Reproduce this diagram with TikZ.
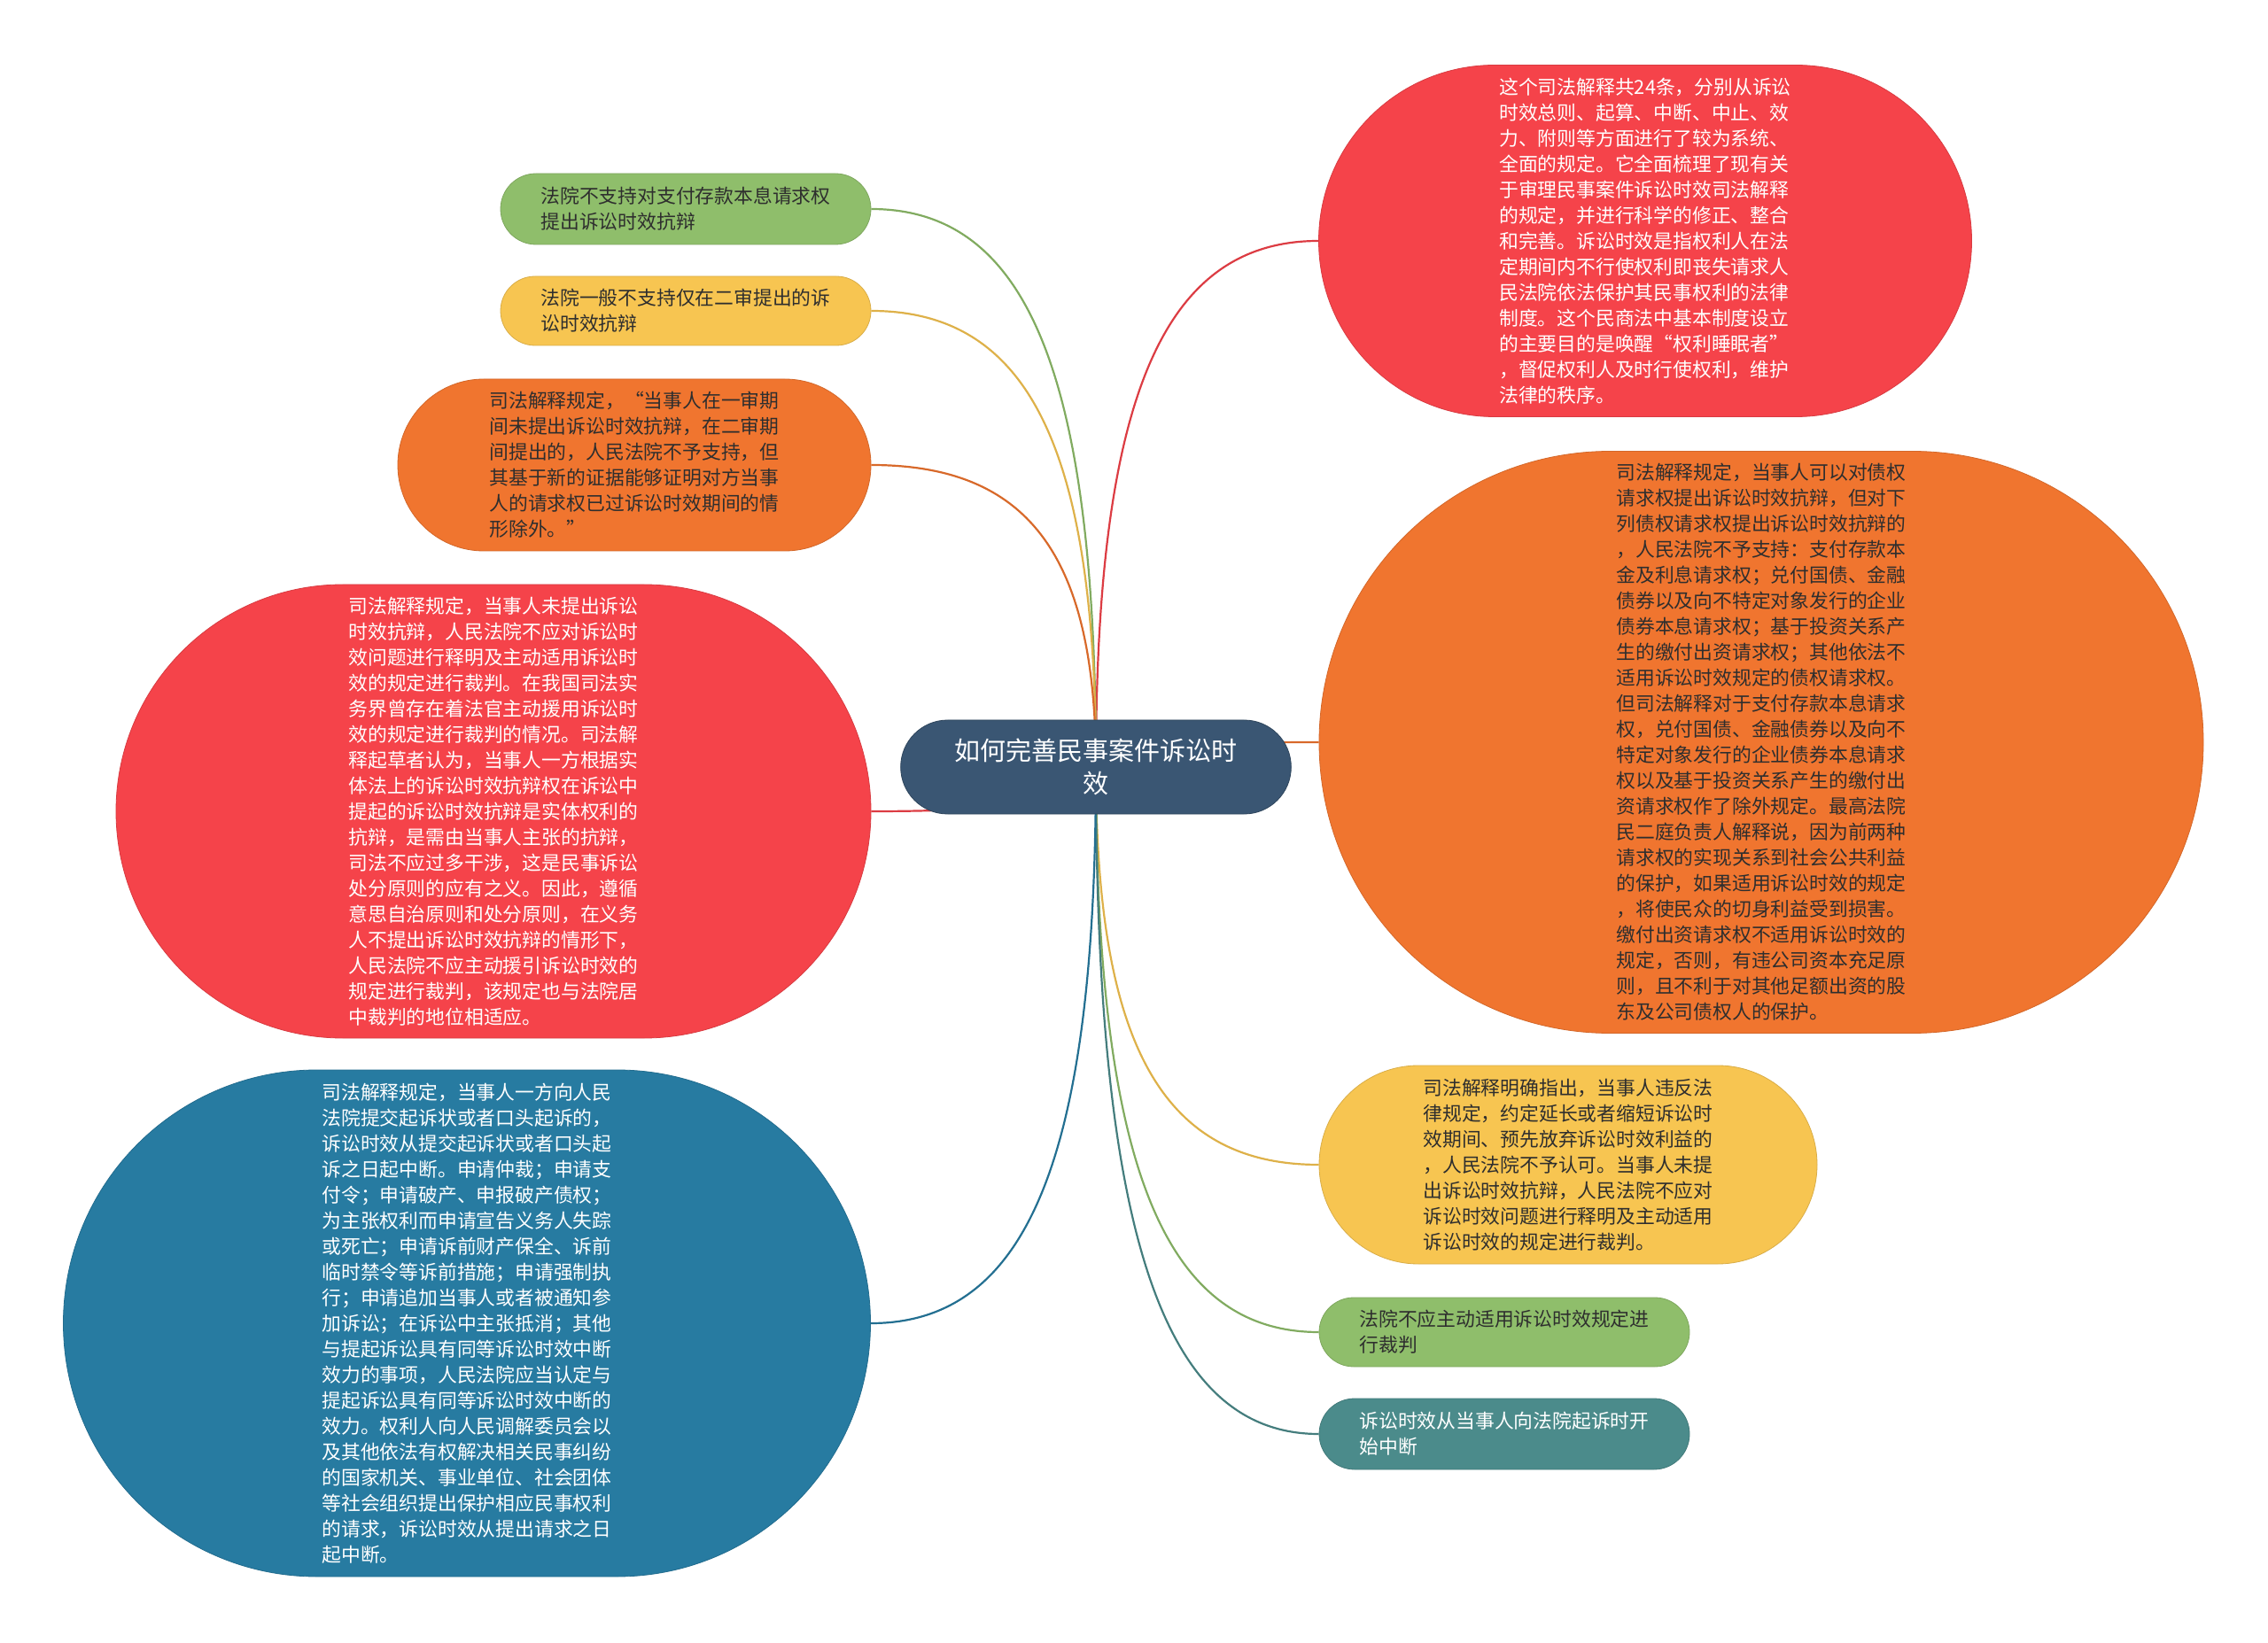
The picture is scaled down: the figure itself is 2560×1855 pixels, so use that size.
\documentclass[tikz,border=0pt]{standalone}
\usepackage{fontspec}
\setmainfont{Noto Sans CJK SC}
\usetikzlibrary{shapes.misc,calc}
\pgfdeclarelayer{bg}
\pgfdeclarelayer{lines}
\pgfsetlayers{bg,lines,main}
\definecolor{cred}{HTML}{F5434A}
\definecolor{corange}{HTML}{F0752F}
\definecolor{cyellow}{HTML}{F7C551}
\definecolor{cgreen}{HTML}{8FBE6B}
\definecolor{cteal}{HTML}{4B8B8B}
\definecolor{cblue}{HTML}{277BA1}
\definecolor{ccenter}{HTML}{3A5673}
\definecolor{cdark}{HTML}{2E2E2E}
\newcommand\mmconn[2]{%
  \draw[ln=#1] (C.center) .. controls ($(C.center)!0.7!(C.center |- #2)$) and ($(#2)!0.7!(C.center |- #2)$) .. (#2);}
\begin{document}
\begin{tikzpicture}[x=0.5pt,y=-0.5pt,
  bub/.style={rounded rectangle, fill=#1, draw=#1!88!black, line width=0.4pt,
    align=left, inner sep=0pt, font=\fontsize{10.9pt}{14.5pt}\selectfont},
  ln/.style={line width=1.1pt, draw=#1!90!black}]
\begin{pgfonlayer}{bg}
\fill[white] (0,0) rectangle (2560,1855);
\end{pgfonlayer}
\useasboundingbox (0,0) rectangle (2560,1855);

\node[rounded rectangle, fill=ccenter, draw=ccenter!80!black, line width=0.4pt,
  minimum width=227pt, minimum height=53pt, align=center, text=white,
  font=\fontsize{14.5pt}{18.75pt}\selectfont] (C) at (1237,866)
  {如何完善民事案件诉讼时\\效};

% right side
\node[bub=cred, text=white, minimum width=368.5pt, minimum height=198.5pt] (R1) at (1857,272) {%
这个司法解释共24条，分别从诉讼\\
时效总则、起算、中断、中止、效\\
力、附则等方面进行了较为系统、\\
全面的规定。它全面梳理了现有关\\
于审理民事案件诉讼时效司法解释\\
的规定，并进行科学的修正、整合\\
和完善。诉讼时效是指权利人在法\\
定期间内不行使权利即丧失请求人\\
民法院依法保护其民事权利的法律\\
制度。这个民商法中基本制度设立\\
的主要目的是唤醒“权利睡眠者”\\
，督促权利人及时行使权利，维护\\
法律的秩序。};

\node[bub=corange, text=cdark, minimum width=499pt, minimum height=328.5pt] (R2) at (1988,838) {%
司法解释规定，当事人可以对债权\\
请求权提出诉讼时效抗辩，但对下\\
列债权请求权提出诉讼时效抗辩的\\
，人民法院不予支持：支付存款本\\
金及利息请求权；兑付国债、金融\\
债券以及向不特定对象发行的企业\\
债券本息请求权；基于投资关系产\\
生的缴付出资请求权；其他依法不\\
适用诉讼时效规定的债权请求权。\\
但司法解释对于支付存款本息请求\\
权，兑付国债、金融债券以及向不\\
特定对象发行的企业债券本息请求\\
权以及基于投资关系产生的缴付出\\
资请求权作了除外规定。最高法院\\
民二庭负责人解释说，因为前两种\\
请求权的实现关系到社会公共利益\\
的保护，如果适用诉讼时效的规定\\
，将使民众的切身利益受到损害。\\
缴付出资请求权不适用诉讼时效的\\
规定，否则，有违公司资本充足原\\
则，且不利于对其他足额出资的股\\
东及公司债权人的保护。};

\node[bub=cyellow, text=cdark, minimum width=281pt, minimum height=112pt] (R3) at (1770,1315) {%
司法解释明确指出，当事人违反法\\
律规定，约定延长或者缩短诉讼时\\
效期间、预先放弃诉讼时效利益的\\
，人民法院不予认可。当事人未提\\
出诉讼时效抗辩，人民法院不应对\\
诉讼时效问题进行释明及主动适用\\
诉讼时效的规定进行裁判。};

\node[bub=cgreen, text=cdark, minimum width=209pt, minimum height=39pt] (R4) at (1698,1504) {%
法院不应主动适用诉讼时效规定进\\
行裁判\hphantom{法院不应主动适用诉讼时}};

\node[bub=cteal, text=white, minimum width=209pt, minimum height=40pt] (R5) at (1698,1619) {%
诉讼时效从当事人向法院起诉时开\\
始中断\hphantom{诉讼时效从当事人向法院}};

% left side
\node[bub=cgreen, text=cdark, minimum width=209pt, minimum height=40pt] (L1) at (774,236) {%
法院不支持对支付存款本息请求权\\
提出诉讼时效抗辩};

\node[bub=cyellow, text=cdark, minimum width=209pt, minimum height=39pt] (L2) at (774,351) {%
法院一般不支持仅在二审提出的诉\\
讼时效抗辩};

\node[bub=corange, text=cdark, minimum width=267pt, minimum height=97pt] (L3) at (716,525) {%
司法解释规定，“当事人在一审期\\
间未提出诉讼时效抗辩，在二审期\\
间提出的，人民法院不予支持，但\\
其基于新的证据能够证明对方当事\\
人的请求权已过诉讼时效期间的情\\
形除外。”};

\node[bub=cred, text=white, minimum width=426pt, minimum height=256pt] (L4) at (557,916) {%
司法解释规定，当事人未提出诉讼\\
时效抗辩，人民法院不应对诉讼时\\
效问题进行释明及主动适用诉讼时\\
效的规定进行裁判。在我国司法实\\
务界曾存在着法官主动援用诉讼时\\
效的规定进行裁判的情况。司法解\\
释起草者认为，当事人一方根据实\\
体法上的诉讼时效抗辩权在诉讼中\\
提起的诉讼时效抗辩是实体权利的\\
抗辩，是需由当事人主张的抗辩，\\
司法不应过多干涉，这是民事诉讼\\
处分原则的应有之义。因此，遵循\\
意思自治原则和处分原则，在义务\\
人不提出诉讼时效抗辩的情形下，\\
人民法院不应主动援引诉讼时效的\\
规定进行裁判，该规定也与法院居\\
中裁判的地位相适应。};

\node[bub=cblue, text=white, minimum width=455.5pt, minimum height=286pt] (L5) at (527,1494) {%
司法解释规定，当事人一方向人民\\
法院提交起诉状或者口头起诉的，\\
诉讼时效从提交起诉状或者口头起\\
诉之日起中断。申请仲裁；申请支\\
付令；申请破产、申报破产债权；\\
为主张权利而申请宣告义务人失踪\\
或死亡；申请诉前财产保全、诉前\\
临时禁令等诉前措施；申请强制执\\
行；申请追加当事人或者被通知参\\
加诉讼；在诉讼中主张抵消；其他\\
与提起诉讼具有同等诉讼时效中断\\
效力的事项，人民法院应当认定与\\
提起诉讼具有同等诉讼时效中断的\\
效力。权利人向人民调解委员会以\\
及其他依法有权解决相关民事纠纷\\
的国家机关、事业单位、社会团体\\
等社会组织提出保护相应民事权利\\
的请求，诉讼时效从提出请求之日\\
起中断。};

\begin{pgfonlayer}{lines}
\mmconn{cred}{R1.west}
\mmconn{corange}{R2.west}
\mmconn{cyellow}{R3.west}
\mmconn{cgreen}{R4.west}
\mmconn{cteal}{R5.west}
\mmconn{cgreen}{L1.east}
\mmconn{cyellow}{L2.east}
\mmconn{corange}{L3.east}
\mmconn{cred}{L4.east}
\mmconn{cblue}{L5.east}
\end{pgfonlayer}
\end{tikzpicture}
\end{document}
